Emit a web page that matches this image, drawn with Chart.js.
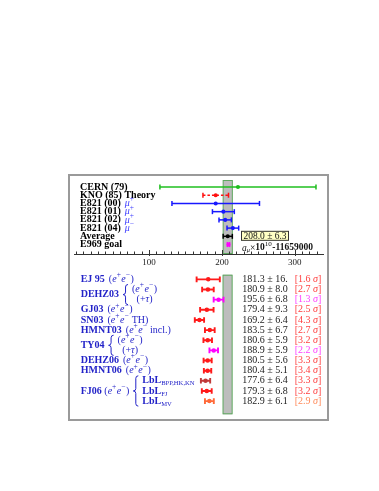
<!DOCTYPE html>
<html><head><meta charset="utf-8">
<script src="https://cdn.jsdelivr.net/npm/chart.js@4.4.0/dist/chart.umd.min.js"></script>
<style>
html,body{margin:0;padding:0;background:#fff;}
body{width:379px;height:491px;position:relative;overflow:hidden;}
#frame{position:absolute;left:68px;top:174px;width:261px;height:247px;border:2px solid #9a9a9a;box-sizing:border-box;}
#top{position:absolute;left:70px;top:176px;}
#bot{position:absolute;left:70px;top:270px;}
</style></head><body>
<div id="frame"></div>
<canvas id="top" width="257" height="94"></canvas>
<canvas id="bot" width="257" height="149"></canvas>
<script>
// ---------- data ----------
const upperLabels = ["CERN (79)", "KNO (85) Theory", "E821 (00)", "E821 (01)", "E821 (02)", "E821 (04)", "Average", "E969 goal"];
const upperTags = ["", "", "$μ$^{+}", "$μ$^{+}", "$μ$^{+}", "$μ$^{−}", "", ""];
const upperValues = [222, 191.5, 191.5, 202, 204.5, 215, 208.0, 209];
const upperErrors = [107, 17.5, 60, 15, 8.5, 8, 6.3, 1.5];

const lowerNames = ["EJ 95", "DEHZ03", "DEHZ03", "GJ03", "SN03", "HMNT03", "TY04", "TY04", "DEHZ06", "HMNT06",
  "FJ06 *($e$^{+}$e$^{−})*", "FJ06 *($e$^{+}$e$^{−})*", "FJ06 *($e$^{+}$e$^{−})*"];
const lowerSubs = ["($e$^{+}$e$^{−})", "($e$^{+}$e$^{−})", "(+$τ$)", "($e$^{+}$e$^{−})", "($e$^{+}$e$^{−} TH)",
  "($e$^{+}$e$^{−} incl.)", "($e$^{+}$e$^{−})", "(+$τ$)", "($e$^{+}$e$^{−})", "($e$^{+}$e$^{−})",
  "*LbL*_{BPP,HK,KN}", "*LbL*_{FJ}", "*LbL*_{MV}"];
const lowerValues = [181.3, 180.9, 195.6, 179.4, 169.2, 183.5, 180.6, 188.9, 180.5, 180.4, 177.6, 179.3, 182.9];
const lowerErrors = [16, 8.0, 6.8, 9.3, 6.4, 6.7, 5.9, 5.9, 5.6, 5.1, 6.4, 6.8, 6.1];
const lowerSigmas = [1.6, 2.7, 1.3, 2.5, 4.3, 2.7, 3.2, 2.2, 3.3, 3.4, 3.3, 3.2, 2.9];

const xMajorTicks = [100, 200, 300];
const xUnitLabel = "$a$_{$μ$}×*10*^{10}*-11659000*";

// ---------- styles ----------
const FAMILY = "'Liberation Serif','DejaVu Serif',serif";
const upperColors = ['#1fbf1f', '#ff1010', '#1818ff', '#1818ff', '#1818ff', '#1818ff', '#000000', '#ff00ff'];
const upperDash = [false, true, false, false, false, false, false, false];
const lowerColors = ['#ff1a1a', '#ff1a1a', '#ff00ff', '#ff1a1a', '#ff1a1a', '#ff1a1a', '#ff1a1a', '#ff00ff',
  '#ff1a1a', '#ff1a1a', '#c03a3a', '#ff1a1a', '#ff6a3a'];
const sigmaColors = ['#ff4040', '#ff4040', '#ff40ff', '#ff4040', '#ff4040', '#ff4040', '#ff4040', '#ff40ff',
  '#ff4040', '#ff4040', '#ff4040', '#ff4040', '#ff8a5a'];
const LABEL_BLUE = '#2323c8';
const TAG_BLUE = '#3b3bff';
const X_MIN = -2.8, X_MAX = 338.6;

// ---------- rich text ----------
function parseRich(s) {
  const segs = []; let bold = false, italic = false, level = 0, buf = '';
  const push = () => { if (buf) { segs.push({t: buf, bold, italic, level}); buf = ''; } };
  for (let i = 0; i < s.length; i++) {
    const c = s[i];
    if (c === '*') { push(); bold = !bold; }
    else if (c === '$') { push(); italic = !italic; }
    else if ((c === '^' || c === '_') && s[i + 1] === '{') { push(); level = c === '^' ? 1 : -1; i++; }
    else if (c === '}' && level !== 0) { push(); level = 0; }
    else buf += c;
  }
  push(); return segs;
}
function drawRich(ctx, s, x, y, o) {
  const segs = parseRich(s); let cx = x;
  ctx.save();
  ctx.textBaseline = 'middle'; ctx.textAlign = 'left';
  for (const g of segs) {
    const size = g.level === 1 ? o.size * 0.75 : g.level === -1 ? o.size * 0.66 : o.size;
    const b = (!!o.bold) !== g.bold;
    ctx.font = `${g.italic ? 'italic ' : ''}${b ? 'bold ' : ''}${size}px ${FAMILY}`;
    const dy = g.level === 1 ? -o.size * 0.4 : g.level === -1 ? o.size * 0.28 : 0;
    if (!o.measure) { ctx.fillStyle = o.color; ctx.fillText(g.t, cx, y + dy); }
    cx += ctx.measureText(g.t).width + (g.level === 1 ? 0.5 : 0);
  }
  ctx.restore();
  return cx - x;
}
function drawBrace(ctx, x, y1, y2, w, color) {
  const ym = (y1 + y2) / 2, r = w / 2;
  ctx.save();
  ctx.strokeStyle = color; ctx.lineWidth = 1;
  ctx.beginPath();
  ctx.moveTo(x + w, y1);
  ctx.quadraticCurveTo(x + r, y1, x + r, y1 + r);
  ctx.lineTo(x + r, ym - r);
  ctx.quadraticCurveTo(x + r, ym, x, ym);
  ctx.quadraticCurveTo(x + r, ym, x + r, ym + r);
  ctx.lineTo(x + r, y2 - r);
  ctx.quadraticCurveTo(x + r, y2, x + w, y2);
  ctx.stroke();
  ctx.restore();
}
function fmtErr(e) { return e >= 10 ? e.toFixed(0) + '.' : e.toFixed(1); }

// ---------- shared ----------
const avgIdx = upperLabels.indexOf('Average');
const avgVal = upperValues[avgIdx], avgErr = upperErrors[avgIdx];

const bandPlugin = {
  id: 'band',
  beforeDatasetsDraw(chart) {
    const {ctx, chartArea: a, scales: {x}} = chart;
    const x1 = x.getPixelForValue(avgVal - avgErr), x2 = x.getPixelForValue(avgVal + avgErr);
    ctx.save();
    ctx.fillStyle = '#bdbdbd';
    ctx.fillRect(x1, a.top, x2 - x1, a.bottom - a.top);
    ctx.strokeStyle = '#5fa85f'; ctx.lineWidth = 1;
    ctx.strokeRect(x1, a.top + 0.5, x2 - x1, a.bottom - a.top - 1);
    ctx.restore();
  }
};

function errDataset(v, e, i, color, dashed, lw, cap) {
  return {
    data: [{x: v - e, y: i}, {x: v, y: i}, {x: v + e, y: i}],
    showLine: true, borderColor: color, backgroundColor: color, borderWidth: lw,
    borderDash: dashed ? [2.5, 2] : [],
    pointStyle: ['line', 'circle', 'line'], pointRotation: [90, 0, 90],
    pointRadius: [cap, 1.3, cap], pointBorderWidth: lw, pointHoverRadius: 0
  };
}

// ---------- upper chart ----------
const upperLabelPlugin = {
  id: 'upperLabels',
  afterDatasetsDraw(chart) {
    const {ctx, chartArea: a, scales: {y}} = chart;
    const x0 = a.left + 6;
    upperLabels.forEach((lab, i) => {
      const py = y.getPixelForValue(i);
      const w = drawRich(ctx, lab, x0, py, {size: 10, bold: true, color: '#000'});
      if (upperTags[i]) drawRich(ctx, upperTags[i], x0 + w + 4, py, {size: 10, bold: false, color: TAG_BLUE});
    });
    // average box
    const by = y.getPixelForValue(avgIdx) - 0.5;
    const bx = a.right - 82, bw = 48, bh = 10;
    ctx.save();
    ctx.fillStyle = '#ffffc4'; ctx.fillRect(bx, by - bh / 2, bw, bh);
    ctx.strokeStyle = '#333'; ctx.lineWidth = 1; ctx.strokeRect(bx + 0.5, by - bh / 2 + 0.5, bw - 1, bh - 1);
    ctx.restore();
    const txt = avgVal.toFixed(1) + ' ± ' + avgErr.toFixed(1);
    const tw = drawRich(ctx, txt, 0, 0, {size: 9.5, measure: true});
    drawRich(ctx, txt, bx + (bw - tw) / 2, by + 0.5, {size: 9.5, color: '#111'});
    drawRich(ctx, xUnitLabel, a.right - 81, a.bottom - 6, {size: 9.5, color: '#111'});
  },
  afterDraw(chart) {
    const {ctx, chartArea: a, scales: {x}} = chart;
    ctx.save();
    ctx.strokeStyle = '#333'; ctx.lineWidth = 1;
    for (let v = 0; v <= X_MAX; v += 10) {
      const px = Math.round(x.getPixelForValue(v)) + 0.5;
      const major = xMajorTicks.includes(v);
      ctx.beginPath();
      ctx.moveTo(px, a.bottom - (major ? 4 : 2.5));
      ctx.lineTo(px, a.bottom + (major ? 2 : 0));
      ctx.stroke();
    }
    ctx.restore();
  }
};

new Chart(document.getElementById('top'), {
  type: 'scatter',
  data: { datasets: upperLabels.map((l, i) => errDataset(upperValues[i], upperErrors[i], i, upperColors[i], upperDash[i], 1.5, 2.5)) },
  options: {
    responsive: false, animation: false, devicePixelRatio: 1,
    layout: {padding: 0},
    plugins: {legend: {display: false}, tooltip: {enabled: false}},
    scales: {
      x: {
        type: 'linear', min: X_MIN, max: X_MAX,
        afterBuildTicks: (s) => { s.ticks = xMajorTicks.map(v => ({value: v})); },
        afterFit: (s) => { s.height = 16; },
        grid: {display: false, drawTicks: false},
        border: {display: true, color: '#333', width: 1},
        ticks: {autoSkip: false, padding: 3, color: '#222', font: {family: FAMILY, size: 9}, maxRotation: 0}
      },
      y: {type: 'linear', reverse: true, min: -0.85, max: 8.15, display: false}
    }
  },
  plugins: [bandPlugin, upperLabelPlugin]
});

// ---------- lower chart ----------
const lowerLabelPlugin = {
  id: 'lowerLabels',
  afterDatasetsDraw(chart) {
    const {ctx, chartArea: a, scales: {y}} = chart;
    const x0 = a.left + 6;
    let i = 0;
    while (i < lowerNames.length) {
      let j = i;
      while (j + 1 < lowerNames.length && lowerNames[j + 1] === lowerNames[i]) j++;
      const name = lowerNames[i];
      if (j === i) {
        const py = y.getPixelForValue(i);
        const w = drawRich(ctx, name, x0, py, {size: 10, bold: true, color: LABEL_BLUE});
        drawRich(ctx, lowerSubs[i], x0 + w + 4, py, {size: 10, bold: false, color: LABEL_BLUE});
      } else {
        const y1 = y.getPixelForValue(i), y2 = y.getPixelForValue(j);
        const w = drawRich(ctx, name, x0, (y1 + y2) / 2, {size: 10, bold: true, color: LABEL_BLUE});
        const bx = x0 + w + 4;
        drawBrace(ctx, bx, y1 - 5, y2 + 5, 5, LABEL_BLUE);
        const cx = bx + 9;
        const subs = lowerSubs.slice(i, j + 1);
        const widths = subs.map(s => drawRich(ctx, s, 0, 0, {size: 10, measure: true}));
        const colW = Math.max(...widths);
        const center = subs[0].startsWith('(');
        subs.forEach((s, k) => {
          const sx = center ? cx + (colW - widths[k]) / 2 : cx;
          drawRich(ctx, s, sx, y.getPixelForValue(i + k), {size: 10, bold: false, color: LABEL_BLUE});
        });
      }
      i = j + 1;
    }
    lowerValues.forEach((v, k) => {
      const py = y.getPixelForValue(k);
      drawRich(ctx, v.toFixed(1) + ' ± ' + fmtErr(lowerErrors[k]), a.right - 80, py, {size: 10, color: '#222'});
      const st = '[' + lowerSigmas[k].toFixed(1) + ' $σ$]';
      const sw = drawRich(ctx, st, 0, 0, {size: 10, measure: true});
      drawRich(ctx, st, a.right - 1 - sw, py, {size: 10, color: sigmaColors[k]});
    });
  }
};

new Chart(document.getElementById('bot'), {
  type: 'scatter',
  data: { datasets: lowerValues.map((v, i) => errDataset(v, lowerErrors[i], i, lowerColors[i], false, 1.9, 2.8)) },
  options: {
    responsive: false, animation: false, devicePixelRatio: 1,
    layout: {padding: 0},
    plugins: {legend: {display: false}, tooltip: {enabled: false}},
    scales: {
      x: {type: 'linear', min: X_MIN, max: X_MAX, display: false},
      y: {type: 'linear', reverse: true, min: -0.46, max: 13.3, display: false}
    }
  },
  plugins: [bandPlugin, lowerLabelPlugin]
});
</script>
</body></html>
